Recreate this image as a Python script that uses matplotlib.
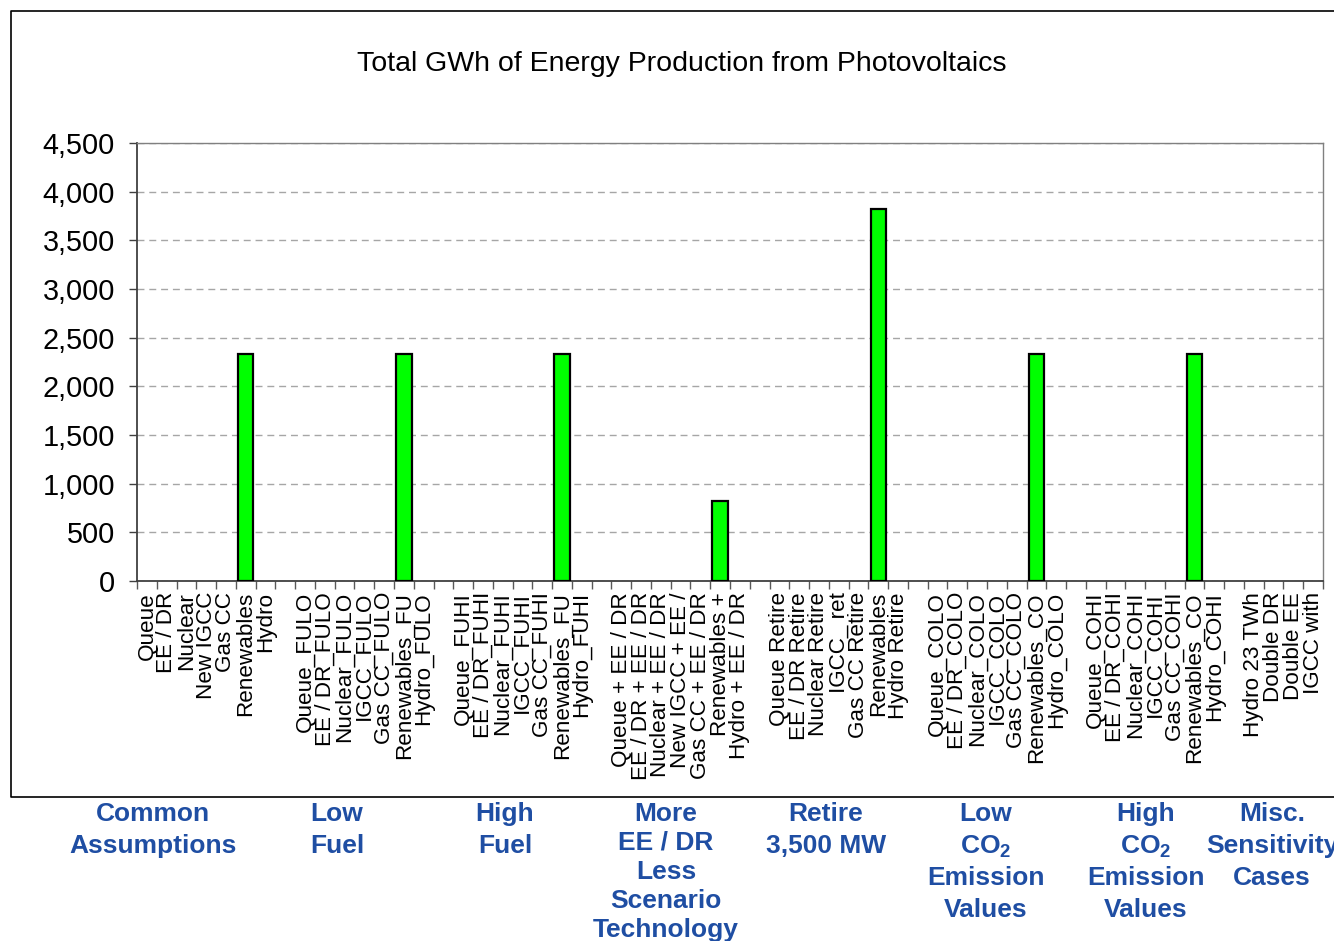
import numpy as np
import matplotlib
matplotlib.use("Agg")
import matplotlib.pyplot as plt
from matplotlib.ticker import FuncFormatter, FixedLocator, MultipleLocator
from matplotlib.lines import Line2D

plt.rcParams['font.family'] = ['Liberation Sans', 'DejaVu Sans']
plt.rcParams['mathtext.fontset'] = 'custom'
plt.rcParams['mathtext.rm'] = 'Liberation Sans'
plt.rcParams['mathtext.bf'] = 'Liberation Sans:bold'

title = "Total GWh of Energy Production from Photovoltaics"

common = ["Queue", "EE / DR", "Nuclear", "New IGCC", "Gas CC", "Renewables", "Hydro"]
low_fuel = ["Queue_FULO", "EE / DR_FULO", "Nuclear_FULO", "IGCC_FULO", "Gas CC_FULO",
            "Renewables_FU", "Hydro_FULO"]
high_fuel = ["Queue_FUHI", "EE / DR_FUHI", "Nuclear_FUHI", "IGCC_FUHI", "Gas CC_FUHI",
             "Renewables_FU", "Hydro_FUHI"]
more_eedr = ["Queue + EE / DR", "EE / DR + EE / DR", "Nuclear + EE / DR", "New IGCC + EE /",
             "Gas CC + EE / DR", "Renewables +", "Hydro + EE / DR"]
retire = ["Queue Retire", "EE / DR Retire", "Nuclear Retire", "IGCC_ ret", "Gas CC Retire",
          "Renewables", "Hydro Retire"]
low_co2 = ["Queue_COLO", "EE / DR_COLO", "Nuclear_COLO", "IGCC_COLO", "Gas CC_COLO",
           "Renewables_CO", "Hydro_COLO"]
high_co2 = ["Queue_COHI", "EE / DR_COHI", "Nuclear_COHI", "IGCC_COHI", "Gas CC_COHI",
            "Renewables_CO", "Hydro_COHI"]
misc = ["Hydro 23 TWh", "Double DR", "Double EE", "IGCC with"]

common_vals = [0, 0, 0, 0, 0, 2330, 0]
low_fuel_vals = [0, 0, 0, 0, 0, 2330, 0]
high_fuel_vals = [0, 0, 0, 0, 0, 2330, 0]
more_eedr_vals = [0, 0, 0, 0, 0, 825, 0]
retire_vals = [0, 0, 0, 0, 0, 3825, 0]
low_co2_vals = [0, 0, 0, 0, 0, 2330, 0]
high_co2_vals = [0, 0, 0, 0, 0, 2330, 0]
misc_vals = [0, 0, 0, 0]

group_titles = [["Common", "Assumptions"], ["Low", "Fuel"], ["High", "Fuel"],
                ["More", "EE / DR", "Less", "Scenario", "Technology"],
                ["Retire", "3,500 MW"],
                ["Low", "CO$_\\mathbf{2}$", "Emission", "Values"],
                ["High", "CO$_\\mathbf{2}$", "Emission", "Values"],
                ["Misc.", "Sensitivity", "Cases"]]

groups = [(common, common_vals), (low_fuel, low_fuel_vals), (high_fuel, high_fuel_vals),
          (more_eedr, more_eedr_vals), (retire, retire_vals), (low_co2, low_co2_vals),
          (high_co2, high_co2_vals), (misc, misc_vals)]

labels, values = [], []
for gi, (labs, vals) in enumerate(groups):
    labels += labs
    values += vals
    if gi < len(groups) - 1:
        labels.append("")
        values.append(0)

x = np.arange(len(labels))
vals = np.array(values, dtype=float)
vals[vals == 0] = np.nan

W, H = 1334, 941
fig = plt.figure(figsize=(W / 100, H / 100), dpi=100)
L, R, T, B = 137, 1323, 143, 581
ax = fig.add_axes([L / W, 1 - B / H, (R - L) / W, (B - T) / H])

ax.bar(x, vals, width=0.78, color='#00ff00', edgecolor='black', linewidth=1.6, zorder=3)

ax.set_xlim(-0.5, len(labels) - 0.5)
ax.set_ylim(0, 4500)
ax.yaxis.set_major_locator(MultipleLocator(500))
ax.yaxis.set_major_formatter(FuncFormatter(lambda v, p: f"{int(v):,}"))
ax.grid(axis='y', color='#a6a6a6', linestyle=(0, (5, 3.5)), linewidth=1.0, zorder=0)
ax.set_axisbelow(True)

ax.set_xticks(x)
ax.set_xticklabels(labels, rotation=90, fontsize=16.2, va='top', ha='center',
                   linespacing=1.0)
ax.tick_params(axis='x', which='major', length=0, pad=8)
ax.xaxis.set_minor_locator(FixedLocator(np.arange(-0.5, len(labels), 1.0)))
ax.tick_params(axis='x', which='minor', length=6, width=1, color='#595959', direction='out')
ax.tick_params(axis='y', labelsize=20.8, length=6, width=1, color='#404040', pad=10)

for s in ['left', 'bottom']:
    ax.spines[s].set_color('#404040')
    ax.spines[s].set_linewidth(1.3)
for s in ['top', 'right']:
    ax.spines[s].set_color('#808080')
    ax.spines[s].set_linewidth(1.0)

fig.text(682 / W, 1 - 64 / H, title, fontsize=20.5, ha='center', va='center')

# outer chart frame
fx = [W + 5, 11, 11, W + 5]
fy = [11, 11, 797, 797]
fig.add_artist(Line2D([v / W for v in fx], [1 - v / H for v in fy], color='black',
                      linewidth=1.2, transform=fig.transFigure))

# group titles, one line at a time
xpix = [153, 337, 505, 666, 826, 986, 1146, 1272]
for gi, lines in enumerate(group_titles):
    step = 29 if len(lines) == 5 else 32
    for k, line in enumerate(lines):
        fig.text(xpix[gi] / W, 1 - (821 + step * k) / H, line, fontsize=19,
                 fontweight='bold', color='#1f4ea3', ha='center', va='baseline')

fig.savefig("out.png", dpi=100)
